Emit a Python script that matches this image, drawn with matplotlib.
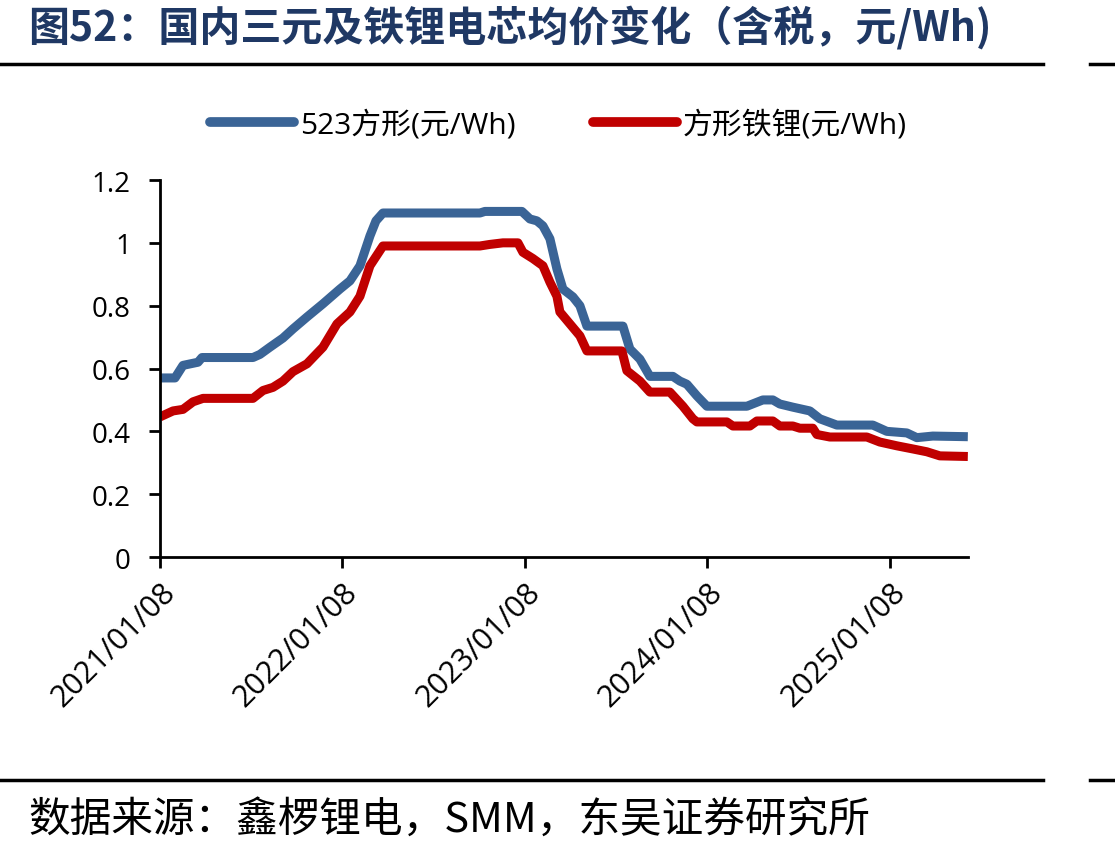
import matplotlib.pyplot as plt
import pandas as pd
from matplotlib.lines import Line2D

plt.rcParams['font.family'] = ['Open Sans', 'Noto Sans CJK SC', 'DejaVu Sans']

# 523方形 (元/Wh)
ncm_dates = ['2021-01-08', '2021-02-07', '2021-02-23', '2021-03-25', '2021-04-02', '2021-07-13',
             '2021-07-27', '2021-08-16', '2021-09-11', '2021-10-01', '2021-10-29', '2021-11-30',
             '2022-01-03', '2022-01-23', '2022-02-12', '2022-03-04', '2022-03-16', '2022-03-30',
             '2022-10-10', '2022-10-20', '2023-01-02', '2023-01-18', '2023-02-01', '2023-02-13',
             '2023-02-27', '2023-03-13', '2023-03-25', '2023-04-14', '2023-04-28', '2023-05-12',
             '2023-07-23', '2023-08-06', '2023-08-26', '2023-09-15', '2023-10-31', '2023-11-14',
             '2023-11-28', '2023-12-18', '2024-01-07', '2024-03-27', '2024-04-12', '2024-04-28',
             '2024-05-18', '2024-06-01', '2024-06-27', '2024-07-31', '2024-08-20', '2024-09-23',
             '2024-12-04', '2025-01-01', '2025-02-10', '2025-03-02', '2025-04-03', '2025-06-12']
ncm_price = [0.57, 0.57, 0.61, 0.62, 0.635, 0.635,
             0.645, 0.668, 0.697, 0.726, 0.764, 0.806,
             0.853, 0.879, 0.927, 1.022, 1.07, 1.095,
             1.095, 1.10, 1.10, 1.076, 1.07, 1.054,
             1.013, 0.917, 0.853, 0.828, 0.80, 0.735,
             0.735, 0.662, 0.63, 0.575, 0.575, 0.56,
             0.55, 0.513, 0.48, 0.48, 0.49, 0.50,
             0.50, 0.487, 0.477, 0.465, 0.44, 0.42,
             0.42, 0.40, 0.395, 0.38, 0.385, 0.383]

# 方形铁锂 (元/Wh)
lfp_dates = ['2021-01-08', '2021-02-03', '2021-02-23', '2021-03-15', '2021-04-04', '2021-07-13',
             '2021-08-02', '2021-08-22', '2021-09-11', '2021-10-01', '2021-10-29', '2021-11-30',
             '2021-12-28', '2022-01-23', '2022-02-12', '2022-03-04', '2022-03-30', '2022-10-10',
             '2022-10-30', '2022-11-25', '2022-12-25', '2023-01-04', '2023-01-24', '2023-02-13',
             '2023-02-27', '2023-03-13', '2023-03-19', '2023-04-08', '2023-04-28', '2023-05-12',
             '2023-07-21', '2023-07-31', '2023-08-26', '2023-09-15', '2023-10-25', '2023-11-20',
             '2023-12-10', '2023-12-18', '2024-02-16', '2024-02-28', '2024-04-02', '2024-04-16',
             '2024-05-18', '2024-06-01', '2024-06-27', '2024-07-11', '2024-08-06', '2024-08-14',
             '2024-09-09', '2024-11-22', '2024-12-18', '2025-01-21', '2025-02-22', '2025-03-22',
             '2025-04-17', '2025-06-12']
lfp_price = [0.446, 0.465, 0.47, 0.494, 0.505, 0.505,
             0.53, 0.54, 0.56, 0.59, 0.615, 0.668,
             0.742, 0.78, 0.83, 0.927, 0.99, 0.99,
             0.995, 1.0, 1.0, 0.97, 0.95, 0.927,
             0.875, 0.83, 0.78, 0.742, 0.704, 0.656,
             0.656, 0.593, 0.56, 0.525, 0.525, 0.48,
             0.44, 0.43, 0.43, 0.417, 0.417, 0.433,
             0.433, 0.417, 0.417, 0.41, 0.41, 0.39,
             0.382, 0.382, 0.366, 0.354, 0.344, 0.335,
             0.322, 0.32]

tick_dates = ['2021-01-08', '2022-01-08', '2023-01-08', '2024-01-08', '2025-01-08']
tick_labels = ['2021/01/08', '2022/01/08', '2023/01/08', '2024/01/08', '2025/01/08']

blue = '#3A6496'
red = '#C00000'

fig = plt.figure(figsize=(11.15, 8.53), dpi=100)
ax = fig.add_axes([0.1435, 0.3458, 0.7245, 0.442])

ax.plot(pd.to_datetime(ncm_dates), ncm_price, color=blue, lw=6.5, solid_capstyle='butt')
ax.plot(pd.to_datetime(lfp_dates), lfp_price, color=red, lw=6.5, solid_capstyle='butt')

ax.set_xlim(pd.Timestamp('2021-01-08'), pd.Timestamp('2025-06-12'))
ax.set_ylim(0, 1.2)
ax.set_yticks([0, 0.2, 0.4, 0.6, 0.8, 1, 1.2])
ax.set_yticklabels(['0', '0.2', '0.4', '0.6', '0.8', '1', '1.2'], fontsize=20)
ax.set_xticks(pd.to_datetime(tick_dates))
ax.set_xticklabels(tick_labels, fontsize=22, rotation=45, ha='right', rotation_mode='anchor')

for s in ['top', 'right']:
    ax.spines[s].set_visible(False)
for s in ['left', 'bottom']:
    ax.spines[s].set_linewidth(2)
ax.tick_params(axis='both', direction='out', length=8, width=2)
ax.tick_params(axis='y', pad=13)
ax.tick_params(axis='x', pad=6)

handles = [Line2D([], [], color=blue, lw=7, solid_capstyle='round'),
           Line2D([], [], color=red, lw=7, solid_capstyle='round')]
fig.legend(handles, ['523方形(元/Wh)', '方形铁锂(元/Wh)'], loc='center',
           bbox_to_anchor=(0.501, 0.853), ncol=2, frameon=False, fontsize=21.5,
           handlelength=2.8, columnspacing=2.6, handletextpad=0.2)

fig.text(0.025, 0.968, '图52：国内三元及铁锂电芯均价变化（含税，元/Wh)',
         fontsize=29.5, fontweight='bold', color='#1F3864', va='center',
         family=['Noto Sans CJK SC'])
fig.text(0.025, 0.038, '数据来源：鑫椤锂电，SMM，东吴证券研究所',
         fontsize=30, color='black', va='center', family=['Noto Sans CJK SC'])

fig.add_artist(Line2D([0, 1043 / 1115], [1 - 65 / 853] * 2, color='black', lw=2.5))
fig.add_artist(Line2D([1090 / 1115, 1], [1 - 65 / 853] * 2, color='black', lw=2.5))
fig.add_artist(Line2D([0, 1043 / 1115], [1 - 781 / 853] * 2, color='black', lw=2.5))
fig.add_artist(Line2D([1090 / 1115, 1], [1 - 781 / 853] * 2, color='black', lw=2.5))

plt.savefig('out.png', dpi=100)
